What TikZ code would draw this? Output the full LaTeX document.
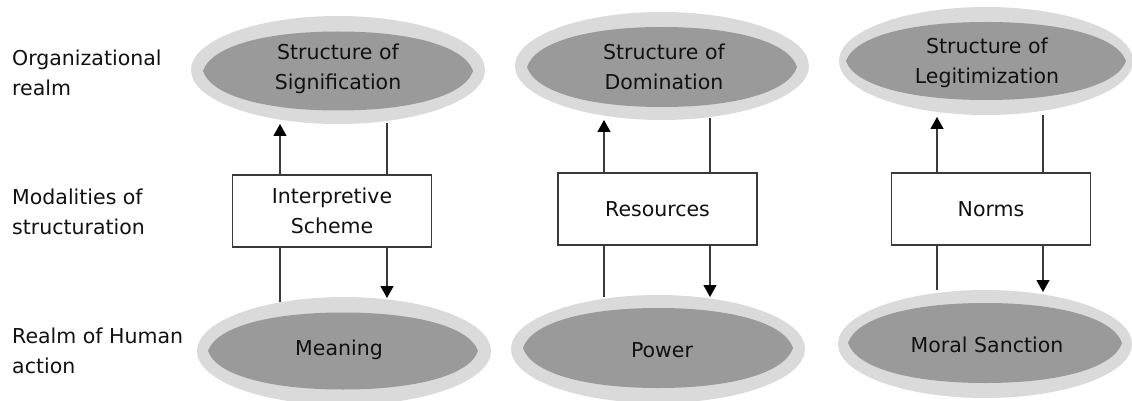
\documentclass[tikz,border=0pt]{standalone}
\usepackage{fontspec}
\setmainfont{DejaVu Sans}
\usetikzlibrary{shapes.geometric,arrows.meta}
\definecolor{ringgray}{HTML}{DADADA}
\definecolor{coregray}{HTML}{9A9A9A}
\definecolor{linec}{HTML}{3A3A3A}
\definecolor{txt}{HTML}{111111}
\newcommand{\diafont}{\fontsize{20.5}{29.5}\selectfont}
% lens-like shape: centre x, centre y, half width, half height, colour
\newcommand{\lensfill}[5]{%
  \fill[#5] (#1-#3,#2)
    .. controls (#1-0.94*#3,#2-0.62*#4) and (#1-0.55*#3,#2-#4) .. (#1,#2-#4)
    .. controls (#1+0.55*#3,#2-#4) and (#1+0.94*#3,#2-0.62*#4) .. (#1+#3,#2)
    .. controls (#1+0.94*#3,#2+0.62*#4) and (#1+0.55*#3,#2+#4) .. (#1,#2+#4)
    .. controls (#1-0.55*#3,#2+#4) and (#1-0.94*#3,#2+0.62*#4) .. (#1-#3,#2) -- cycle;}
\tikzset{
  lbl/.style={font=\diafont, text=txt, align=left, anchor=west, inner sep=0pt},
  ring/.style={ellipse, fill=ringgray, minimum width=294pt, minimum height=108pt, inner sep=0pt, outer sep=0pt},
  core/.style={inner sep=0pt, outer sep=0pt, font=\diafont, text=txt, align=center},
  modbox/.style={draw=linec, line width=1.1pt, fill=white, minimum width=199pt, minimum height=72pt, inner sep=0pt, font=\diafont, text=txt, align=center},
  link/.style={draw=linec, line width=1.2pt},
  arr/.style={link, -{Triangle[width=13pt,length=12pt,color=black]}}
}
\begin{document}
\begin{tikzpicture}[x=1pt,y=-1pt]
\useasboundingbox (0,0) rectangle (1132,401);
% left labels
\node[lbl] (l1) at (12,73) {Organizational\\realm};
\node[lbl] (l2) at (12,212) {Modalities of\\structuration};
\node[lbl] (l3) at (12,351) {Realm of Human\\action};
% rings
\node[ring] (r1t) at (338,70) {};
\node[ring] (r2t) at (662,66) {};
\node[ring] (r3t) at (986,61) {};
\node[ring] (r1b) at (344,351) {};
\node[ring] (r2b) at (658,349) {};
\node[ring] (r3b) at (985,344) {};
% dark cores
\lensfill{338}{71}{135}{39.5}{coregray}
\lensfill{662}{67}{135}{40}{coregray}
\lensfill{986}{61}{140}{39}{coregray}
\lensfill{343}{351}{135}{38.5}{coregray}
\lensfill{658}{348}{135}{40}{coregray}
\lensfill{985}{343}{137}{40}{coregray}
% core texts
\node[core] (s1) at (338,69) {Structure of\\Signification};
\node[core] (s2) at (664,67) {Structure of\\Domination};
\node[core] (s3) at (987,63) {Structure of\\Legitimization};
\node[core] (h1) at (339,350) {Meaning};
\node[core] (h2) at (662,350) {Power};
\node[core] (h3) at (987,345) {Moral Sanction};
% boxes
\node[modbox] (b1) at (332,211) {Interpretive\\Scheme};
\node[modbox] (b2) at (657.5,209) {Resources};
\node[modbox] (b3) at (991,209) {Norms};
% connector ends on rings
\coordinate (u1) at (280,124); \coordinate (d1) at (387,123);
\coordinate (p1) at (280,302); \coordinate (q1) at (387,298);
\coordinate (u2) at (604,120); \coordinate (d2) at (710,118);
\coordinate (p2) at (604,297); \coordinate (q2) at (710,297);
\coordinate (u3) at (937,117); \coordinate (d3) at (1043,115);
\coordinate (p3) at (937,290); \coordinate (q3) at (1043,292);
% connectors
\foreach \i in {1,2,3}{
  \draw[arr] (b\i.north -| u\i) -- (u\i);
  \draw[link] (d\i) -- (b\i.north -| d\i);
  \draw[link] (b\i.south -| p\i) -- (p\i);
  \draw[arr] (b\i.south -| q\i) -- (q\i);
}
\end{tikzpicture}
\end{document}
